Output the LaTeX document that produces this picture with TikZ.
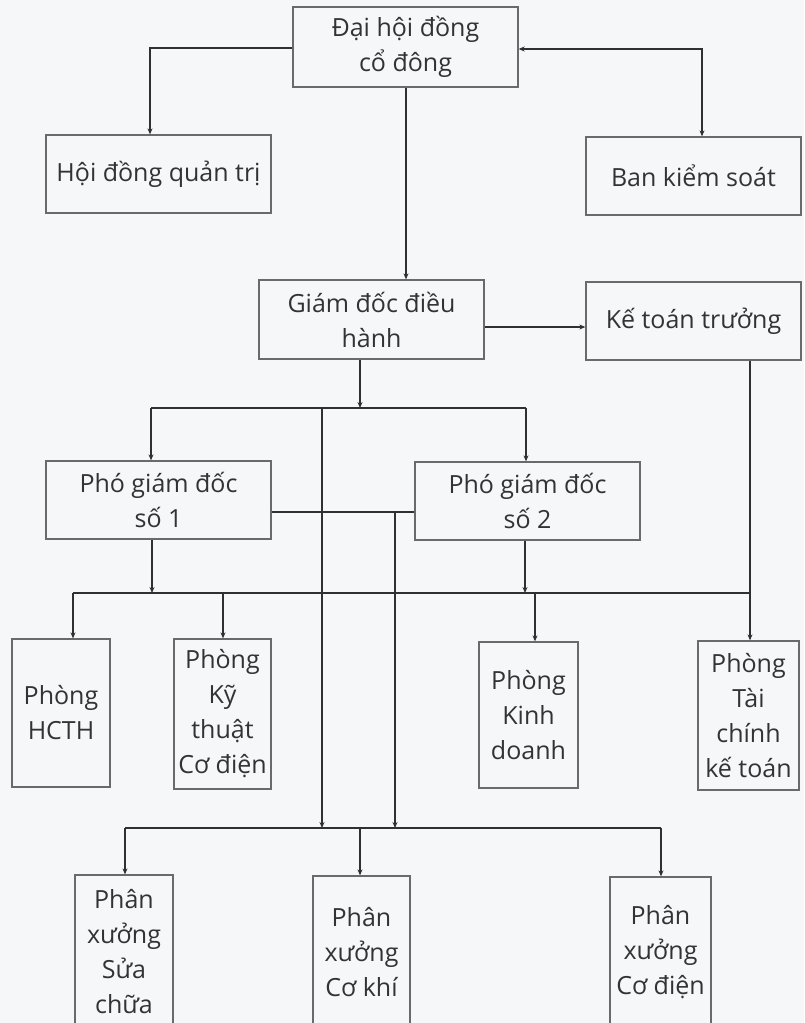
\documentclass[tikz,border=0pt]{standalone}
\usepackage{fontspec}
\setmainfont{Open Sans}
\usetikzlibrary{arrows.meta}
\definecolor{bgc}{HTML}{F6F7F9}
\definecolor{boxc}{HTML}{6A6A6A}
\definecolor{linec}{HTML}{303030}
\definecolor{textc}{HTML}{333333}
\begin{document}
\begin{tikzpicture}[x=1pt,y=-1pt,
  box/.style={draw=boxc, line width=1.3pt, align=center, inner sep=0pt, text=textc,
    font=\fontsize{25}{35}\selectfont},
  conn/.style={draw=linec, line width=1.6pt},
  arr/.style={conn, -{Stealth[length=6pt,width=5pt]}},
  darr/.style={conn, {Stealth[length=6pt,width=5pt]}-{Stealth[length=6pt,width=5pt]}}]
\useasboundingbox (0,0) rectangle (804,1023);
\fill[bgc] (0,0) rectangle (804,1023);
\clip (0,0) rectangle (804,1023);
% boxes
\node[box, minimum width=225pt, minimum height=80pt] (dh) at (405.5,47) {Đại hội đồng\\cổ đông};
\node[box, minimum width=225pt, minimum height=78pt] (hd) at (158.5,174) {Hội đồng quản trị};
\node[box, minimum width=215pt, minimum height=78pt] (bks) at (693.5,176) {Ban kiểm soát};
\node[box, minimum width=225pt, minimum height=79pt] (gd) at (371.5,319.5) {Giám đốc điều\\hành};
\node[box, minimum width=215pt, minimum height=78pt] (ktt) at (693.5,321) {Kế toán trưởng};
\node[box, minimum width=225pt, minimum height=78pt] (p1) at (158.5,500) {Phó giám đốc\\số 1};
\node[box, minimum width=225pt, minimum height=78pt] (p2) at (527.5,501) {Phó giám đốc\\số 2};
\node[box, minimum width=98pt, minimum height=148pt] (hcth) at (61,713) {Phòng\\HCTH};
\node[box, minimum width=97pt, minimum height=150pt] (kt) at (222.5,714) {Phòng\\Kỹ\\thuật\\Cơ điện};
\node[box, minimum width=99pt, minimum height=146pt] (kd) at (528.5,715) {Phòng\\Kinh\\doanh};
\node[box, minimum width=101pt, minimum height=149pt] (tc) at (748.5,715.5) {Phòng\\Tài\\chính\\kế toán};
\node[box, minimum width=98pt, minimum height=153pt] (px1) at (124,951.5) {Phân\\xưởng\\Sửa\\chữa};
\node[box, minimum width=97pt, minimum height=152pt] (px2) at (361.5,952) {Phân\\xưởng\\Cơ khí};
\node[box, minimum width=101pt, minimum height=151pt] (px3) at (660.5,952.5) {Phân\\xưởng\\Cơ điện};
% coordinates
\coordinate (c1) at (150,48);
\coordinate (c2) at (702,49);
\coordinate (c3) at (406,0);
\coordinate (g1) at (360,408);
\coordinate (b1L) at (151,408);
\coordinate (b1R) at (526,408);
\coordinate (v1) at (322,408);
\coordinate (v1b) at (322,828);
\coordinate (v2) at (395,512);
\coordinate (v2b) at (395,828);
\coordinate (q1) at (152,593);
\coordinate (q2) at (525,593);
\coordinate (b2L) at (73,593);
\coordinate (b2R) at (750,593);
\coordinate (d1) at (223,593);
\coordinate (d2) at (535,593);
\coordinate (b3L) at (125,828);
\coordinate (b3M) at (360,828);
\coordinate (b3R) at (661,828);
\coordinate (ky) at (0,327);
% connectors
\draw[arr] (dh.west |- c1) -- (c1) -- (c1 |- hd.north);
\draw[darr] (dh.east |- c2) -- (c2) -- (c2 |- bks.north);
\draw[arr] (c3 |- dh.south) -- (c3 |- gd.north);
\draw[arr] (gd.east |- ky) -- (ktt.west |- ky);
\draw[arr] (g1 |- gd.south) -- (g1);
\draw[conn] (b1L) -- (b1R);
\draw[arr] (b1L) -- (b1L |- p1.north);
\draw[arr] (b1R) -- (b1R |- p2.north);
\draw[arr] (v1) -- (v1b);
\draw[conn] (p1.east |- v2) -- (p2.west |- v2);
\draw[arr] (v2) -- (v2b);
\draw[arr] (q1 |- p1.south) -- (q1);
\draw[arr] (q2 |- p2.south) -- (q2);
\draw[conn] (b2L) -- (b2R);
\draw[arr] (b2L) -- (b2L |- hcth.north);
\draw[arr] (d1) -- (d1 |- kt.north);
\draw[arr] (d2) -- (d2 |- kd.north);
\draw[arr] (b2R |- ktt.south) -- (b2R |- tc.north);
\draw[conn] (b3L) -- (b3R);
\draw[arr] (b3L) -- (b3L |- px1.north);
\draw[arr] (b3M) -- (b3M |- px2.north);
\draw[arr] (b3R) -- (b3R |- px3.north);
\end{tikzpicture}
\end{document}
